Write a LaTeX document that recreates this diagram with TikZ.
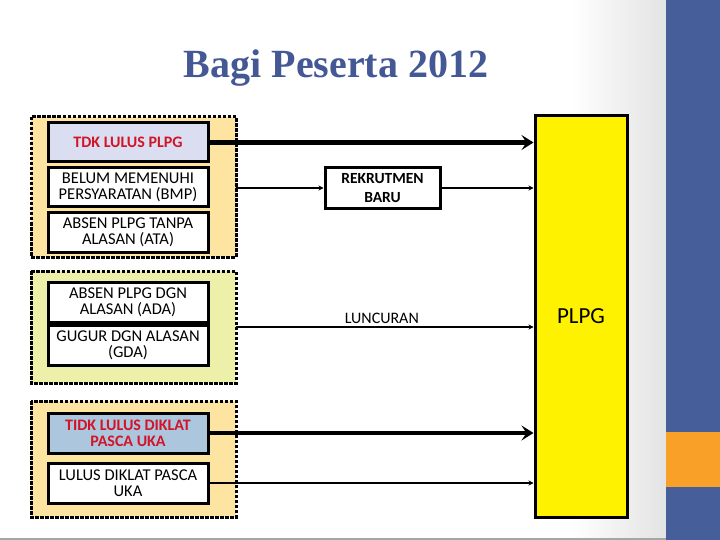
\documentclass[tikz,border=0pt]{standalone}
\usepackage{fontspec}
\setmainfont{Carlito}
\newfontfamily\titlefont{Liberation Serif}
\usetikzlibrary{arrows.meta}
\definecolor{titleblue}{RGB}{68,88,150}
\definecolor{sideblue}{RGB}{70,95,155}
\definecolor{sideorange}{RGB}{248,160,40}
\definecolor{grpA}{RGB}{253,228,160}
\definecolor{grpB}{RGB}{236,240,168}
\definecolor{lav}{RGB}{218,222,240}
\definecolor{steel}{RGB}{172,198,222}
\definecolor{redtxt}{RGB}{210,20,40}
\tikzset{
  grp/.style={draw=black, line width=3pt, dash pattern=on 3.5pt off 1.5pt},
  item/.style={draw=black, line width=3pt, fill=white, minimum width=160pt, align=center, font=\fontsize{16.5}{16}\selectfont, inner sep=1pt},
  hot/.style={item, text=redtxt, font=\fontsize{16}{16}\selectfont\bfseries},
  thick arr/.style={line width=4.5pt, -{Stealth[length=12pt,width=15pt,inset=5pt]}},
  thin arr/.style={line width=2pt, -{Stealth[length=5pt,width=5pt]}},
}
\begin{document}
\begin{tikzpicture}[x=1pt,y=-1pt]
\useasboundingbox (0,0) rectangle (720,540);
\fill[white] (0,0) rectangle (666,540);
\shade[left color=white, right color=black!11] (570,0) rectangle (666,540);
\fill[black!35] (0,538) rectangle (666,540);
\fill[sideblue] (666,0) rectangle (720,540);
\fill[sideorange] (666,432) rectangle (720,487);
\node[font=\titlefont\bfseries\fontsize{40}{44}\selectfont, text=titleblue] (title) at (336,68) {Bagi Peserta 2012};
% groups
\draw[grp, fill=grpA] (31,117) rectangle (236,257);
\draw[grp, fill=grpB] (31,271) rectangle (236,383);
\draw[grp, fill=grpA] (31,401) rectangle (236,517);
\coordinate (g1r) at (236,188);
\coordinate (g2r) at (236,327);
% items
\node[hot, fill=lav, minimum height=39pt] (tdk) at (128,142.5) {TDK LULUS PLPG};
\node[item, minimum height=39pt] (bmp) at (128,187.5) {BELUM MEMENUHI\\PERSYARATAN (BMP)};
\node[item, minimum height=39pt] (ata) at (128,232.5) {ABSEN PLPG TANPA\\ALASAN (ATA)};
\node[item, minimum height=40pt] (ada) at (128,302) {ABSEN PLPG DGN\\ALASAN (ADA)};
\node[item, minimum height=40pt] (gda) at (128,345) {GUGUR DGN ALASAN\\(GDA)};
\node[hot, fill=steel, minimum height=40pt] (tidk) at (128,433) {TIDK LULUS DIKLAT\\PASCA UKA};
\node[item, minimum height=40pt] (lulus) at (128,483) {LULUS DIKLAT PASCA\\UKA};
% middle
\node[item, font=\fontsize{15.5}{19}\selectfont\bfseries, minimum width=115pt, minimum height=41pt] (rek) at (382.5,188) {REKRUTMEN\\BARU};
% PLPG
\node[draw=black, line width=3pt, fill=yellow, minimum width=92pt, minimum height=401pt, font=\fontsize{23}{26}\selectfont] (plpg) at (581,316.5) {PLPG};
% connectors
\draw[thick arr] (tdk.east) -- (tdk.east -| plpg.west);
\draw[thin arr] (g1r) -- (rek.west);
\draw[thin arr] (rek.east) -- (rek.east -| plpg.west);
\draw[thin arr] (g2r) -- node[above, font=\fontsize{16}{16}\selectfont, pos=0.49, yshift=-1pt] (lun) {LUNCURAN} (g2r -| plpg.west);
\draw[thick arr] (tidk.east) -- (tidk.east -| plpg.west);
\draw[thin arr] (lulus.east) -- (lulus.east -| plpg.west);
\end{tikzpicture}
\end{document}
